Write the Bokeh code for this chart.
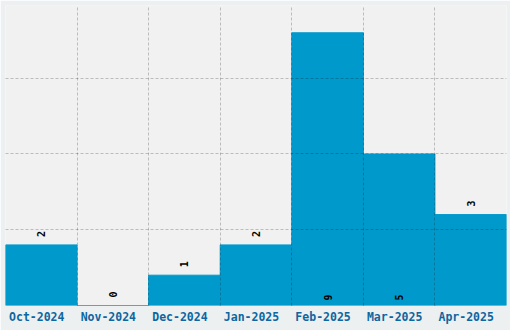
from bokeh.plotting import figure
from bokeh.models import ColumnDataSource, Range1d, FixedTicker, CustomJSTickFormatter
from bokeh.core.properties import value
from bokeh.embed import file_html
from bokeh.resources import INLINE
import math

months = ["Oct-2024", "Nov-2024", "Dec-2024", "Jan-2025", "Feb-2025", "Mar-2025", "Apr-2025"]
counts = [2, 0, 1, 2, 9, 5, 3]

y_max = 9.9
inside_threshold = 5

xs = [i + 0.5 for i in range(len(months))]
src = ColumnDataSource(dict(x=xs, top=counts, label=[str(c) for c in counts]))

above = [i for i, c in enumerate(counts) if c < inside_threshold]
inside = [i for i, c in enumerate(counts) if c >= inside_threshold]
src_above = ColumnDataSource(dict(x=[xs[i] for i in above], y=[counts[i] for i in above],
                                  label=[str(counts[i]) for i in above]))
src_inside = ColumnDataSource(dict(x=[xs[i] for i in inside], y=[0 for i in inside],
                                   label=[str(counts[i]) for i in inside]))

p = figure(width=510, height=330, output_backend="svg", toolbar_location=None,
           x_range=Range1d(0, len(months)), y_range=Range1d(0, y_max),
           min_border_left=5, min_border_right=4, min_border_top=5, min_border_bottom=25)
p.background_fill_color = "#f1f1f1"
p.border_fill_color = "#ecf0f1"
p.outline_line_color = None

p.vbar(x="x", top="top", width=1, source=src, fill_color="#0099cc", line_color="#0099cc", line_width=1)

p.text(x="x", y="y", text="label", source=src_above, angle=math.pi / 2, y_offset=-8,
       text_align="left", text_baseline="middle", text_font=value("DejaVu Sans Mono"),
       text_font_style="bold", text_font_size="10px", text_color="black")
p.text(x="x", y="y", text="label", source=src_inside, angle=math.pi / 2, y_offset=-5,
       text_align="left", text_baseline="middle", text_font=value("DejaVu Sans Mono"),
       text_font_style="bold", text_font_size="10px", text_color="black")

p.yaxis.visible = False
ax = p.xaxis[0]
ax.ticker = FixedTicker(ticks=[x - 0.063 for x in xs])
ax.formatter = CustomJSTickFormatter(args=dict(names=months), code="return names[index];")
ax.axis_line_color = None
ax.major_tick_line_color = None
ax.minor_tick_line_color = None
ax.major_tick_in = 0
ax.major_tick_out = 0
ax.major_label_standoff = 4
ax.major_label_text_font = "DejaVu Sans Mono"
ax.major_label_text_font_style = "bold"
ax.major_label_text_font_size = "11.5px"
ax.major_label_text_color = "#0d66a0"

p.xgrid.ticker = FixedTicker(ticks=list(range(1, len(months))))
p.ygrid.ticker = FixedTicker(ticks=[2.5, 5, 7.5])
for g in (p.xgrid[0], p.ygrid[0]):
    g.grid_line_color = "black"
    g.grid_line_alpha = 0.22
    g.grid_line_dash = "3 2"
    g.grid_line_width = 1
    g.level = "overlay"

open("out.html", "w").write(file_html(p, INLINE))
